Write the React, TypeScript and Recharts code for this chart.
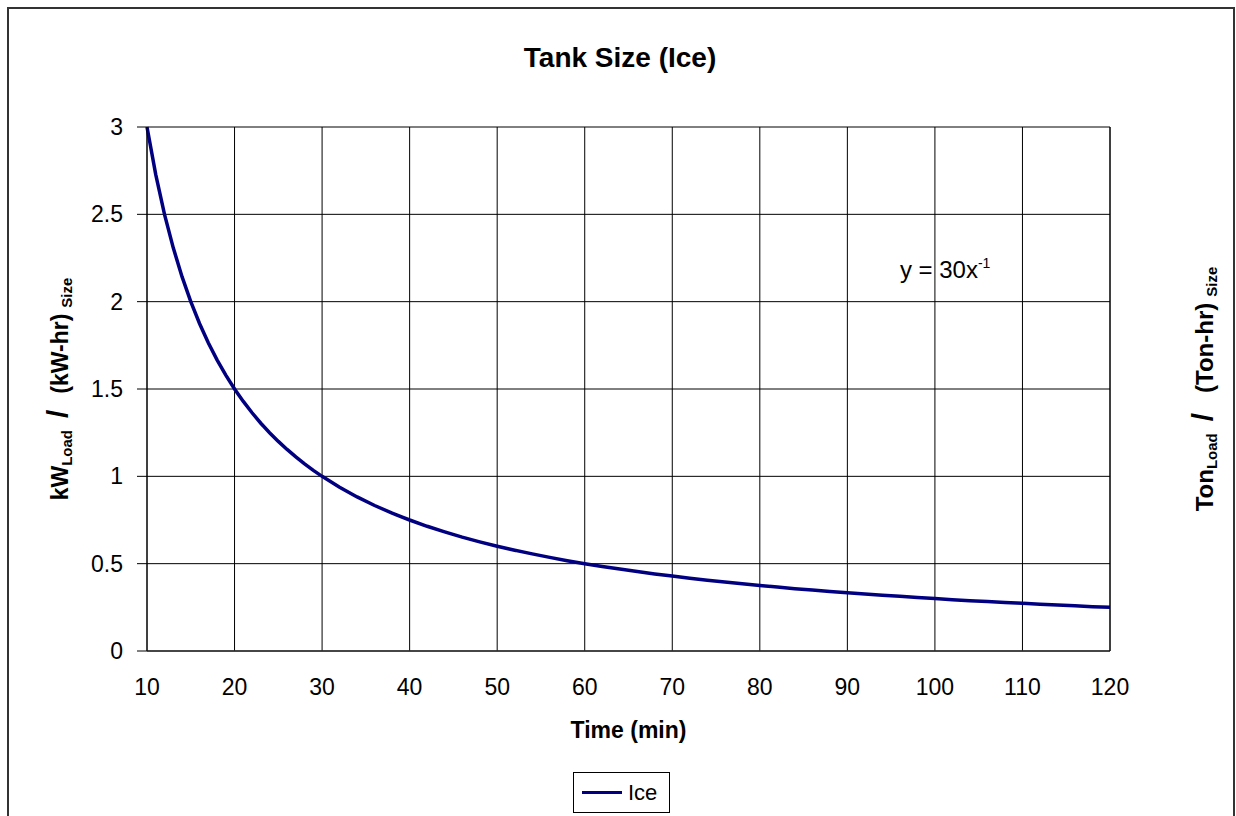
import React from "react";
import {
  CartesianGrid,
  Legend,
  Line,
  LineChart,
  ReferenceDot,
  XAxis,
  YAxis,
} from "recharts";

const FONT = '"Liberation Sans", Arial, sans-serif';
const NAVY = "#000080";

const minutes = [
  10, 11, 12, 13, 14, 15, 16, 17, 18, 19, 20, 21, 22, 23, 24, 25, 26, 27, 28, 29, 30,
  32, 34, 36, 38, 40, 42, 44, 46, 48, 50, 52, 54, 56, 58, 60, 62, 64, 66, 68, 70,
  72, 74, 76, 78, 80, 82, 84, 86, 88, 90, 92, 94, 96, 98, 100, 102, 104, 106, 108, 110,
  112, 114, 116, 118, 120,
];

const iceValues = [
  3.0, 2.727, 2.5, 2.308, 2.143, 2.0, 1.875, 1.765, 1.667, 1.579, 1.5, 1.429, 1.364, 1.304,
  1.25, 1.2, 1.154, 1.111, 1.071, 1.034, 1.0,
  0.938, 0.882, 0.833, 0.789, 0.75, 0.714, 0.682, 0.652, 0.625, 0.6, 0.577, 0.556, 0.536,
  0.517, 0.5, 0.484, 0.469, 0.455, 0.441, 0.429, 0.417, 0.405, 0.395, 0.385, 0.375, 0.366,
  0.357, 0.349, 0.341, 0.333, 0.326, 0.319, 0.313, 0.306, 0.3, 0.294, 0.288, 0.283, 0.278,
  0.273, 0.268, 0.263, 0.259, 0.254, 0.25,
];

const xTicks = [10, 20, 30, 40, 50, 60, 70, 80, 90, 100, 110, 120];
const yTicks = [0, 0.5, 1, 1.5, 2, 2.5, 3];

// where the fitted equation sits, in data units
const equationAt = { x: 96, y: 2.135 };

const data = minutes.map((m, i) => ({ min: m, ice: iceValues[i] }));

function SideLabel({ viewBox, shift, unit, big, size = 23, gap = 16 }: any) {
  const cx = viewBox.x + shift;
  const cy = viewBox.y + viewBox.height / 2;
  return (
    <text
      x={cx}
      y={cy}
      transform={`rotate(-90, ${cx}, ${cy})`}
      textAnchor="middle"
      fontFamily={FONT}
      fontWeight="bold"
      fill="#000"
    >
      <tspan fontSize={size}>{big}</tspan>
      <tspan fontSize={15} dy={4}>Load</tspan>
      <tspan fontSize={30} dy={-4} dx={12}>/</tspan>
      <tspan fontSize={size} dx={gap}>{`(${unit}-hr)`}</tspan>
      <tspan fontSize={15} dy={4} dx={6}>Size</tspan>
    </text>
  );
}

function TimeLabel({ viewBox }: any) {
  return (
    <text
      x={viewBox.x + viewBox.width / 2}
      y={viewBox.y + 87}
      textAnchor="middle"
      fontFamily={FONT}
      fontWeight="bold"
      fontSize={23}
      fill="#000"
    >
      Time (min)
    </text>
  );
}

function Equation({ cx, cy }: any) {
  return (
    <text x={cx} y={cy} fontFamily={FONT} fontSize={24} fill="#000">
      <tspan>y = 30x</tspan>
      <tspan fontSize={14} dy={-10}>-1</tspan>
    </text>
  );
}

function LegendBox({ payload }: any) {
  return (
    <div
      style={{
        boxSizing: "border-box",
        width: 97,
        height: 41,
        border: "1px solid #000",
        background: "#fff",
        display: "flex",
        alignItems: "center",
        paddingLeft: 8,
        fontFamily: FONT,
        fontSize: 22,
        color: "#000",
      }}
    >
      {(payload || []).map((p: any) => (
        <React.Fragment key={p.value}>
          <span style={{ display: "inline-block", width: 40, height: 3, background: NAVY, marginRight: 6 }} />
          <span>{p.value}</span>
        </React.Fragment>
      ))}
    </div>
  );
}

export default function App() {
  return (
    <div
      style={{
        position: "fixed",
        left: 7,
        top: 7,
        width: 1228,
        height: 830,
        boxSizing: "border-box",
        border: "2px solid #333",
        background: "#fff",
      }}
    >
      <div
        style={{
          position: "absolute",
          left: 311,
          top: 35,
          width: 600,
          textAlign: "center",
          fontFamily: FONT,
          fontWeight: "bold",
          fontSize: 28,
          lineHeight: "28px",
          color: "#000",
        }}
      >
        Tank Size (Ice)
      </div>
      <LineChart
        width={1224}
        height={826}
        data={data}
        margin={{ top: 118, right: 0, bottom: 144, left: 0 }}
      >
        <CartesianGrid yAxisId="left" stroke="#000" strokeWidth={1} />
        <XAxis
          dataKey="min"
          type="number"
          domain={[10, 120]}
          ticks={xTicks}
          height={40}
          tickLine={false}
          tickSize={0}
          tickMargin={28}
          axisLine={{ stroke: "#333", strokeWidth: 1.5 }}
          tick={{ fill: "#000", fontSize: 23, fontFamily: FONT }}
          label={<TimeLabel />}
        />
        <YAxis
          yAxisId="left"
          domain={[0, 3]}
          ticks={yTicks}
          width={138}
          tickSize={10}
          tickMargin={14}
          tickLine={{ stroke: "#000" }}
          axisLine={{ stroke: "#000" }}
          tick={{ fill: "#000", fontSize: 23, fontFamily: FONT }}
          label={<SideLabel shift={59} big="kW" unit="kW" />}
        />
        <YAxis
          yAxisId="right"
          orientation="right"
          domain={[0, 3]}
          ticks={yTicks}
          width={123}
          tickSize={8}
          tickMargin={14}
          tickLine={{ stroke: "#000" }}
          axisLine={{ stroke: "#000" }}
          tick={{ fill: "#000", fontSize: 23, fontFamily: FONT, textAnchor: "start" }}
          label={<SideLabel shift={103} big="Ton" unit="Ton" size={24} gap={20} />}
        />
        <ReferenceDot
          yAxisId="left"
          x={equationAt.x}
          y={equationAt.y}
          r={0}
          ifOverflow="visible"
          shape={<Equation />}
        />
        <Line
          yAxisId="left"
          type="linear"
          dataKey="ice"
          name="Ice"
          stroke={NAVY}
          strokeWidth={3.5}
          dot={false}
          isAnimationActive={false}
        />
        <Legend
          layout="horizontal"
          verticalAlign="middle"
          align="center"
          width={97}
          content={<LegendBox />}
          wrapperStyle={{ left: 564, top: 763, width: 97 }}
        />
      </LineChart>
    </div>
  );
}
